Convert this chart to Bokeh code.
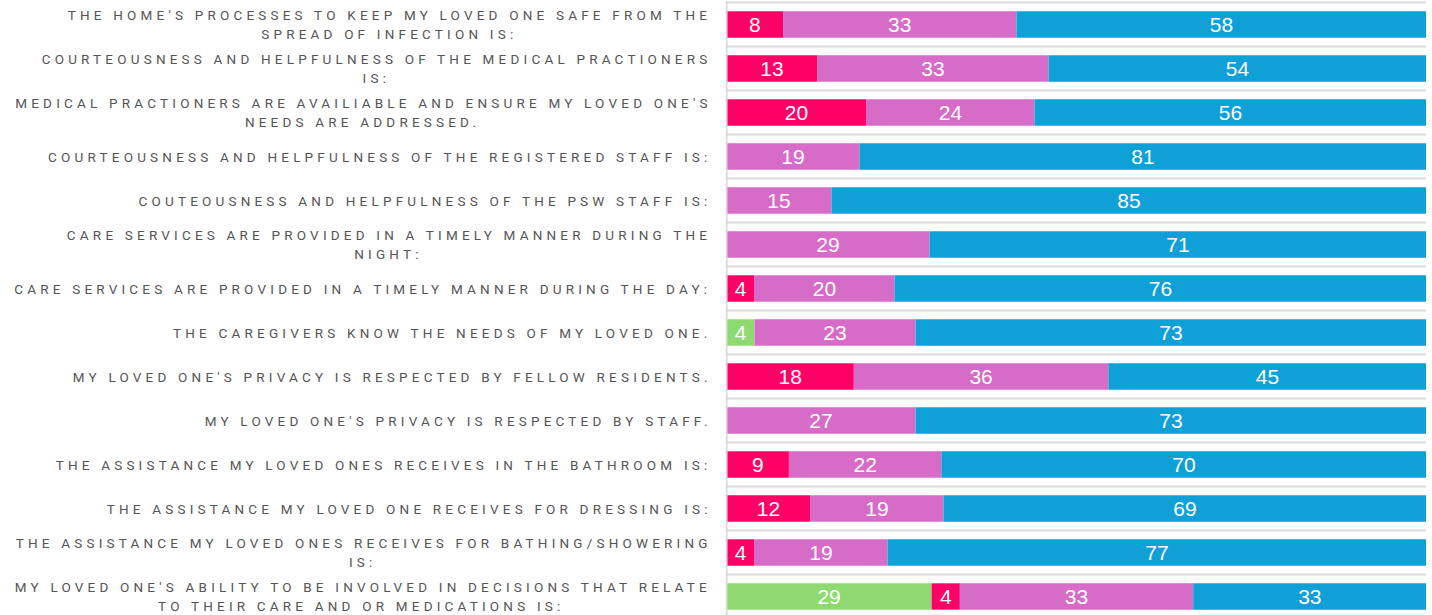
from bokeh.plotting import figure
from bokeh.models import ColumnDataSource, Range1d, FixedTicker, Span
from bokeh.layouts import row
from bokeh.embed import file_html
from bokeh.resources import INLINE
from bokeh.core.properties import value

questions = [
    "THE HOME'S PROCESSES TO KEEP MY LOVED ONE SAFE FROM THE\nSPREAD OF INFECTION IS:",
    "COURTEOUSNESS AND HELPFULNESS OF THE MEDICAL PRACTIONERS\nIS:",
    "MEDICAL PRACTIONERS ARE AVAILIABLE AND ENSURE MY LOVED ONE'S\nNEEDS ARE ADDRESSED.",
    "COURTEOUSNESS AND HELPFULNESS OF THE REGISTERED STAFF IS:",
    "COUTEOUSNESS AND HELPFULNESS OF THE PSW STAFF IS:",
    "CARE SERVICES ARE PROVIDED IN A TIMELY MANNER DURING THE\nNIGHT:",
    "CARE SERVICES ARE PROVIDED IN A TIMELY MANNER DURING THE DAY:",
    "THE CAREGIVERS KNOW THE NEEDS OF MY LOVED ONE.",
    "MY LOVED ONE'S PRIVACY IS RESPECTED BY FELLOW RESIDENTS.",
    "MY LOVED ONE'S PRIVACY IS RESPECTED BY STAFF.",
    "THE ASSISTANCE MY LOVED ONES RECEIVES IN THE BATHROOM IS:",
    "THE ASSISTANCE MY LOVED ONE RECEIVES FOR DRESSING IS:",
    "THE ASSISTANCE MY LOVED ONES RECEIVES FOR BATHING/SHOWERING\nIS:",
    "MY LOVED ONE'S ABILITY TO BE INVOLVED IN DECISIONS THAT RELATE\nTO THEIR CARE AND OR MEDICATIONS IS:",
]
series_green = [0, 0, 0, 0, 0, 0, 0, 4, 0, 0, 0, 0, 0, 29]
series_red = [8, 13, 20, 0, 0, 0, 4, 0, 18, 0, 9, 12, 4, 4]
series_pink = [33, 33, 24, 19, 15, 29, 20, 23, 36, 27, 22, 19, 19, 33]
series_blue = [58, 54, 56, 81, 85, 71, 76, 73, 45, 73, 70, 69, 77, 33]

series = [series_green, series_red, series_pink, series_blue]
keys = ["green", "red", "pink", "blue"]
colors = ["#8fd972", "#ff0066", "#d66cc8", "#10a0d8"]

n = len(questions)
rows = list(range(n))
totals = [sum(s[i] for s in series) for i in rows]
data = {"y": rows}
for k, s in zip(keys, series):
    data[k] = [s[i] / totals[i] * 100 for i in rows]
src = ColumnDataSource(data)

# value labels at segment centres
tx, ty, tt = [], [], []
cum = [0.0] * n
for k, s in zip(keys, series):
    for i in rows:
        w = data[k][i]
        if s[i] > 0:
            tx.append(cum[i] + w / 2)
            ty.append(i)
            tt.append(str(s[i]))
        cum[i] += w
lsrc = ColumnDataSource(dict(x=tx, y=ty, t=tt))

# ---- layout / styling constants ----
W_LAB, W_BAR, H = 725, 701, 615
FS = 13.5          # label font size (px)
LS = 4.2           # letter spacing (px)
RIGHT = 707        # right edge of label text (px in label panel)
LINE_GAP = 9.5     # half distance between two label lines

# approximate Roboto advance widths (em) used to centre second lines
ADV = dict(A=.652, B=.622, C=.651, D=.656, E=.568, F=.553, G=.681, H=.713, I=.272,
           J=.552, K=.627, L=.539, M=.873, N=.713, O=.688, P=.631, Q=.688, R=.616,
           S=.593, T=.597, U=.649, V=.636, W=.887, X=.627, Y=.601, Z=.599)
ADV.update({" ": .248, "'": .174, ":": .212, ".": .263, "/": .412})


def ink_width(s):
    return sum(ADV.get(c, .6) for c in s) * FS + (len(s) - 1) * LS


l1x, l1y, l1t, l1dy, l1dx = [], [], [], [], []
l2x, l2y, l2t, l2dy, l2dx = [], [], [], [], []
for i, q in enumerate(questions):
    parts = q.split("\n")
    first = parts[0]
    l1x.append(RIGHT)
    l1y.append(i)
    l1t.append(first)
    l1dx.append(-(len(first) - 1) * LS)
    l1dy.append(-LINE_GAP - 0.5 if len(parts) > 1 else 0)
    if len(parts) > 1:
        second = parts[1]
        centre = RIGHT - ink_width(first) / 2
        l2x.append(centre)
        l2y.append(i)
        l2t.append(second)
        l2dx.append(-(len(second) - 1) * LS / 2)
        l2dy.append(LINE_GAP - 0.5)

y_range = Range1d(start=(H - 24) / 44, end=-24 / 44)

# left figure: question labels
lab = figure(width=W_LAB, height=H, x_range=Range1d(0, W_LAB), y_range=y_range,
             output_backend="svg", toolbar_location=None,
             min_border_left=0, min_border_right=0, min_border_top=0, min_border_bottom=0,
             outline_line_color=None, x_axis_location=None, y_axis_location=None)
lab.grid.visible = False
lab.styles = {"letter-spacing": f"{LS}px"}
lab.text(x="x", y="y", text="t", x_offset="dx", y_offset="dy",
         source=ColumnDataSource(dict(x=l1x, y=l1y, t=l1t, dx=l1dx, dy=l1dy)),
         text_font=value("Roboto"), text_font_size=f"{FS}px", text_color="#555555",
         text_align="right", text_baseline="middle")
lab.text(x="x", y="y", text="t", x_offset="dx", y_offset="dy",
         source=ColumnDataSource(dict(x=l2x, y=l2y, t=l2t, dx=l2dx, dy=l2dy)),
         text_font=value("Roboto"), text_font_size=f"{FS}px", text_color="#555555",
         text_align="center", text_baseline="middle")

# right figure: stacked bars
p = figure(width=W_BAR, height=H, x_range=Range1d(-0.15, 100), y_range=y_range,
           output_backend="svg", toolbar_location=None,
           min_border_left=0, min_border_right=0, min_border_top=0, min_border_bottom=0,
           outline_line_color=None, x_axis_location=None, y_axis_location=None)
p.xgrid.visible = False
p.ygrid.ticker = FixedTicker(ticks=[i - 0.5 for i in range(n + 1)])
p.ygrid.grid_line_color = "#dcdcdc"
p.ygrid.grid_line_width = 2

p.hbar_stack(keys, y="y", height=0.6, color=colors, source=src, line_color=None)
p.add_layout(Span(location=0, dimension="height", line_color="#d9d9d9", line_width=2))
p.text(x="x", y="y", text="t", source=lsrc, text_color="white",
       text_font=value("Liberation Sans"), text_font_size="21px",
       text_align="center", text_baseline="middle")

layout = row(lab, p)
open("out.html", "w").write(file_html(layout, INLINE))
